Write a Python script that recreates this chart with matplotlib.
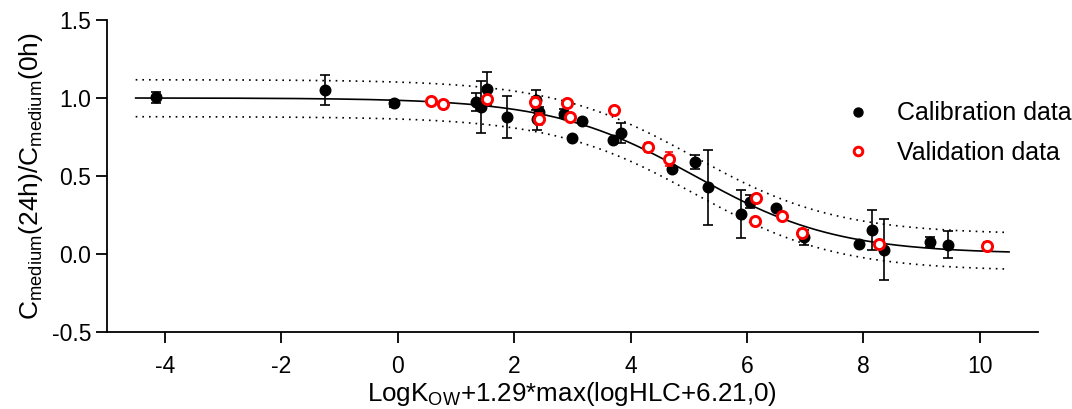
"""
Medium depletion after 24 h against the combined partitioning descriptor.
"""
import matplotlib
matplotlib.use("Agg")
import matplotlib.pyplot as plt
import numpy as np

# calibration set: descriptor, ratio, SD (0 = no bar)
calib_x = [-4.15, -1.24, -0.06, 1.34, 1.43, 1.53, 1.87, 2.37, 2.42, 2.40,
           2.85, 3.00, 3.16, 3.69, 3.84, 4.71, 5.11, 5.33, 5.90, 6.05,
           6.50, 6.98, 7.93, 8.15, 8.36, 9.15, 9.46]
calib_y = [1.005, 1.05, 0.965, 0.975, 0.943, 1.059, 0.879, 0.984, 0.909, 0.862,
           0.90, 0.743, 0.851, 0.733, 0.774, 0.545, 0.59, 0.426, 0.258, 0.334,
           0.294, 0.107, 0.064, 0.154, 0.026, 0.077, 0.058]
calib_sd = [0.035, 0.095, 0.025, 0.06, 0.165, 0.105, 0.136, 0.064, 0.03, 0.065,
            0.03, 0.0, 0.0, 0.0, 0.066, 0.0, 0.043, 0.24, 0.154, 0.043,
            0.0, 0.048, 0.0, 0.129, 0.195, 0.032, 0.088]

# validation set
valid_x = [0.57, 0.78, 1.53, 2.36, 2.43, 2.90, 2.96, 3.72, 4.30, 4.66,
           6.16, 6.13, 6.60, 6.94, 8.27, 10.12]
valid_y = [0.98, 0.96, 0.995, 0.973, 0.866, 0.969, 0.879, 0.92, 0.684, 0.611,
           0.358, 0.208, 0.24, 0.133, 0.064, 0.047]
valid_sd = [0.0, 0.0, 0.02, 0.03, 0.04, 0.0, 0.0, 0.0, 0.03, 0.045,
            0.0, 0.0, 0.0, 0.025, 0.0, 0.03]

# fitted sigmoid (top, bottom, midpoint, hill slope) and its prediction band
fit_params = (1.0, 0.0, 5.1, 0.355)
band_upper = (1.117, 0.125, 5.1, 0.355)
band_lower = (0.88, -0.11, 5.1, 0.355)
fit_range = (-4.5, 10.5)

x_ticks = [-4, -2, 0, 2, 4, 6, 8, 10]
y_ticks = [-0.5, 0.0, 0.5, 1.0, 1.5]


def sigmoid(x, top, bottom, mid, slope):
    return bottom + (top - bottom) / (1 + 10 ** ((x - mid) * slope))


def plot(path="out.png"):
    plt.rcParams["font.family"] = ["Liberation Sans", "DejaVu Sans"]
    plt.rcParams["mathtext.fontset"] = "custom"
    plt.rcParams["mathtext.rm"] = "Liberation Sans"
    plt.rcParams["axes.unicode_minus"] = False

    fig = plt.figure(figsize=(10.72, 4.09), dpi=100)
    ax = fig.add_axes([0.0994, 0.189, 0.869, 0.762])

    xs = np.linspace(*fit_range, 300)
    ax.plot(xs, sigmoid(xs, *fit_params), color="black", lw=1.2, zorder=2)
    for band in (band_upper, band_lower):
        ax.plot(xs, sigmoid(xs, *band), color="black", lw=1.2,
                linestyle=(0, (1, 3)), zorder=2)

    cx, cy, csd = np.array(calib_x), np.array(calib_y), np.array(calib_sd)
    has = csd > 0
    ax.errorbar(cx[has], cy[has], yerr=csd[has], fmt="none", ecolor="black",
                elinewidth=1.2, capsize=3.3, capthick=1.2, zorder=3)
    ax.plot(cx, cy, "o", color="black", ms=7.6, zorder=4,
            label="Calibration data")

    vx, vy, vsd = np.array(valid_x), np.array(valid_y), np.array(valid_sd)
    has = vsd > 0
    ax.errorbar(vx[has], vy[has], yerr=vsd[has], fmt="none", ecolor="red",
                elinewidth=1.2, capsize=3.0, capthick=1.2, zorder=5)
    ax.plot(vx, vy, "o", mfc="white", mec="red", mew=2.1, ms=7.3, zorder=6,
            label="Validation data")

    ax.set_xlim(-5, 11)
    ax.set_ylim(-0.5, 1.5)
    ax.set_xticks(x_ticks)
    ax.set_yticks(y_ticks)
    ax.set_yticklabels([f"{v:.1f}" for v in y_ticks])
    for side in ("top", "right"):
        ax.spines[side].set_visible(False)
    for side in ("left", "bottom"):
        ax.spines[side].set_linewidth(1.3)
    ax.tick_params(axis="both", direction="out", length=8, width=1.3,
                   labelsize=16.5)
    ax.tick_params(axis="x", pad=9)
    ax.tick_params(axis="y", pad=3)

    ax.set_xlabel(r"LogK$_{\mathrm{OW}}$+1.29*max(logHLC+6.21,0)",
                  fontsize=18.7, labelpad=1)
    ax.set_ylabel(r"C$_{\mathrm{medium}}$(24h)/C$_{\mathrm{medium}}$(0h)",
                  fontsize=19, labelpad=5)

    ax.legend(loc="upper left", bbox_to_anchor=(0.768, 0.807),
              bbox_transform=fig.transFigure, frameon=False, fontsize=18,
              handletextpad=1.05, labelspacing=0.63, handlelength=1.0,
              markerscale=0.85)

    fig.savefig(path, dpi=100)


def main():
    plot()


if __name__ == "__main__":
    main()
